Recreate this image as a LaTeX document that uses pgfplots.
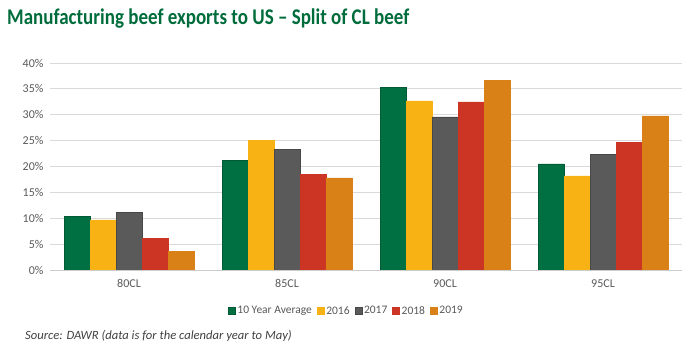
\documentclass[border=0pt]{standalone}
\usepackage{pgfplots}
\pgfplotsset{compat=1.18}
\usepackage{fontspec}
\setmainfont{Carlito}
\definecolor{cgreen}{RGB}{0,112,66}
\definecolor{cyellow}{RGB}{249,178,20}
\definecolor{cgray}{RGB}{90,90,90}
\definecolor{cred}{RGB}{204,52,36}
\definecolor{corange}{RGB}{217,128,22}
\definecolor{ctitle}{RGB}{0,108,60}
\definecolor{ctext}{RGB}{89,89,89}
\begin{document}
\begin{tikzpicture}[x=1pt,y=1pt]
\path (0,0) rectangle (700,350);
\node[anchor=base west, inner sep=0pt] at (7,325) {\scalebox{1}[1.18]{\fontsize{19}{22}\selectfont\bfseries\color{ctitle}Manufacturing beef exports to US -- Split of CL beef}};
\node[anchor=base west, font=\fontsize{12.6}{14}\selectfont\itshape, text=black!75, inner sep=0pt] at (25,10) {Source: DAWR (data is for the calendar year to May)};
\begin{axis}[
  at={(50pt,80pt)}, anchor=south west,
  scale only axis, width=632pt, height=207pt,
  ybar=0pt, bar width=26pt,
  xmin=-0.5, xmax=3.5, ymin=0, ymax=40,
  xtick=data, xticklabels={80CL,85CL,90CL,95CL},
  ytick={0,5,...,40},
  yticklabel={\pgfmathprintnumber{\tick}\%},
  /pgf/number format/assume math mode=true,
  ymajorgrids, grid style={draw=black!15, line width=0.8pt},
  axis x line*=bottom, axis y line*=left,
  y axis line style={draw=none},
  x axis line style={draw=black!20, line width=0.8pt},
  major tick length=0pt,
  tick label style={font=\fontsize{12}{13}\selectfont, text=ctext},
  yticklabel style={xshift=-3pt},
  xticklabel style={yshift=-6pt},
  legend style={at={(0.469,-0.155)}, anchor=north, draw=none, legend columns=-1,
    font=\fontsize{11.5}{13}\selectfont, text=ctext,
    /tikz/every even column/.append style={column sep=3pt}},
  legend image code/.code={\fill[#1] (0pt,-3.5pt) rectangle (7pt,3.5pt);},
  legend cell align=left,
]
\addplot[fill=cgreen, draw=cgreen!80!black] coordinates {(0,10.3) (1,21.2) (2,35.3) (3,20.5)};
\addplot[fill=cyellow, draw=cyellow] coordinates {(0,9.7) (1,25.0) (2,32.7) (3,18.2)};
\addplot[fill=cgray, draw=cgray!80!black] coordinates {(0,11.1) (1,23.3) (2,29.6) (3,22.4)};
\addplot[fill=cred, draw=cred] coordinates {(0,6.05) (1,18.5) (2,32.5) (3,24.7)};
\addplot[fill=corange, draw=corange] coordinates {(0,3.6) (1,17.8) (2,36.6) (3,29.8)};
\legend{10 Year Average,2016,2017,2018,2019}
\end{axis}
\end{tikzpicture}
\end{document}
